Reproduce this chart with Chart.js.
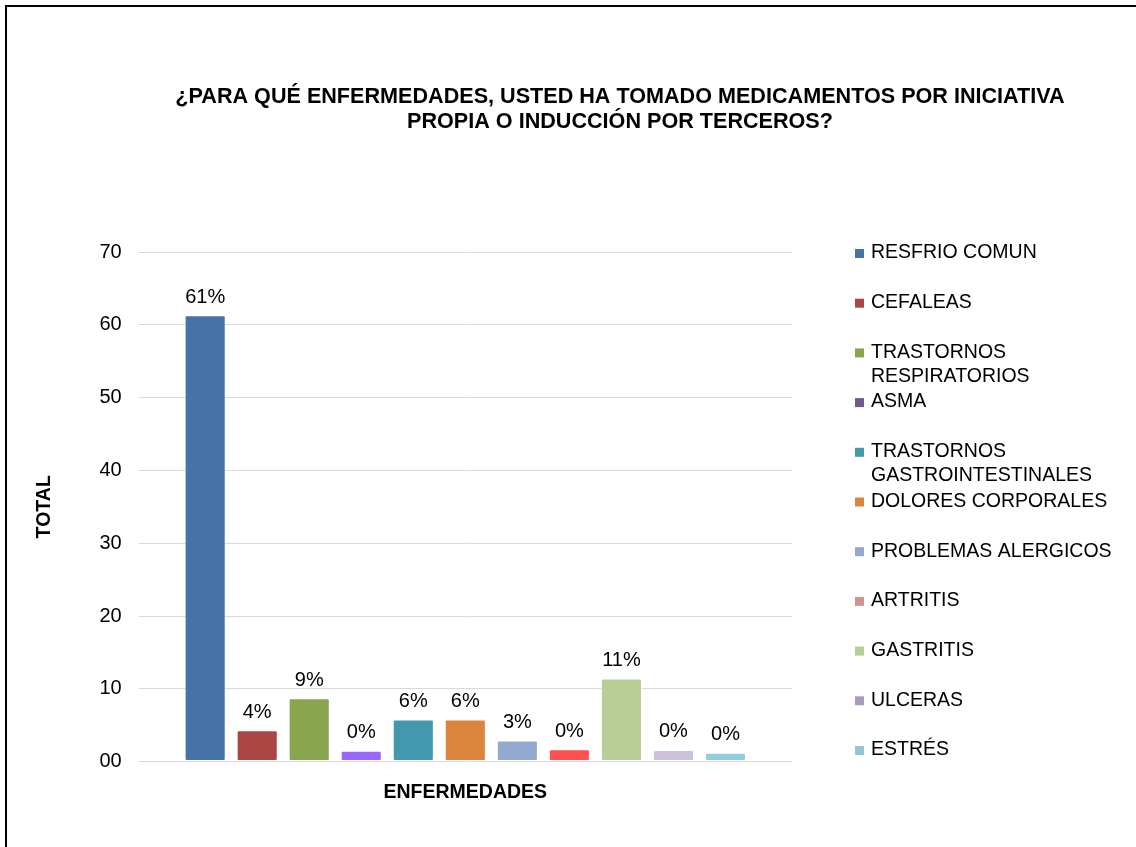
<!DOCTYPE html>
<html>
<head>
<meta charset="utf-8">
<script src="https://cdn.jsdelivr.net/npm/chart.js@4/dist/chart.umd.min.js"></script>
<style>
  body { margin: 0; background: #fff; overflow: hidden; }
  #wrap { position: relative; width: 1136px; height: 847px; }
  #frame { position: absolute; left: 5px; top: 5px; width: 1300px; height: 1000px; border: 2px solid #000; pointer-events: none; }
</style>
</head>
<body>
<div id="wrap">
  <canvas id="chart" width="1136" height="847"></canvas>
  <div id="frame"></div>
</div>
<script>
const categories = [''];
const diseases = [
  'RESFRIO COMUN', 'CEFALEAS', 'TRASTORNOS RESPIRATORIOS', 'ASMA',
  'TRASTORNOS GASTROINTESTINALES', 'DOLORES CORPORALES', 'PROBLEMAS ALERGICOS',
  'ARTRITIS', 'GASTRITIS', 'ULCERAS', 'ESTRÉS'
];
// legend text split the way the original wraps it
const legendLines = [
  ['RESFRIO COMUN'], ['CEFALEAS'], ['TRASTORNOS', 'RESPIRATORIOS'], ['ASMA'],
  ['TRASTORNOS', 'GASTROINTESTINALES'], ['DOLORES CORPORALES'], ['PROBLEMAS ALERGICOS'],
  ['ARTRITIS'], ['GASTRITIS'], ['ULCERAS'], ['ESTRÉS']
];
const totals = [61.3, 4.3, 8.7, 1.5, 5.8, 5.8, 2.9, 1.7, 11.4, 1.6, 1.2];
const pctLabels = ['61%', '4%', '9%', '0%', '6%', '6%', '3%', '0%', '11%', '0%', '0%'];
const barColors = ['#4572A7', '#AA4643', '#89A54E', '#9966FF', '#4198AF', '#DB843D',
  '#93A9CF', '#FF5050', '#B9CD96', '#CCC0DA', '#92CDDC'];
const legendColors = ['#4572A7', '#AA4643', '#89A54E', '#71588F', '#4198AF', '#DB843D',
  '#93A9CF', '#D19392', '#B9CD96', '#A99BBD', '#92C5D6'];
const yTicks = [0, 10, 20, 30, 40, 50, 60, 70];
const titleLines = ['¿PARA QUÉ ENFERMEDADES, USTED HA TOMADO MEDICAMENTOS POR INICIATIVA', 'PROPIA O INDUCCIÓN POR TERCEROS?'];

const FONT = "'Liberation Sans', Arial, sans-serif";

// title centred over the whole picture, not just the plot
const topTitle = {
  id: 'topTitle',
  afterDraw(chart) {
    const ctx = chart.ctx;
    ctx.save();
    ctx.font = 'bold 21.6px ' + FONT;
    ctx.fillStyle = '#000';
    ctx.textAlign = 'center';
    ctx.textBaseline = 'middle';
    titleLines.forEach((t, i) => ctx.fillText(t, 620, 97 + i * 25));
    ctx.restore();
  }
};

// percentage labels above each bar
const barLabels = {
  id: 'barLabels',
  afterDatasetsDraw(chart) {
    const ctx = chart.ctx;
    ctx.save();
    ctx.font = '20px ' + FONT;
    ctx.fillStyle = '#000';
    ctx.textAlign = 'center';
    ctx.textBaseline = 'bottom';
    chart.data.datasets.forEach((ds, i) => {
      const bar = chart.getDatasetMeta(i).data[0];
      ctx.fillText(pctLabels[i], bar.x, bar.y - 8);
    });
    ctx.restore();
  }
};

// legend on the right, one entry per disease, wrapped labels
const sideLegend = {
  id: 'sideLegend',
  afterDraw(chart) {
    const ctx = chart.ctx;
    const x0 = 855, y0 = 253, step = 49.7;
    ctx.save();
    ctx.font = '19.5px ' + FONT;
    ctx.textBaseline = 'middle';
    ctx.textAlign = 'left';
    legendLines.forEach((lines, i) => {
      const y = y0 + i * step;
      ctx.fillStyle = legendColors[i];
      ctx.fillRect(x0, y - 4, 9, 9);
      ctx.fillStyle = '#000';
      lines.forEach((t, j) => ctx.fillText(t, x0 + 16, y + j * 24));
    });
    ctx.restore();
  }
};

const chart = new Chart(document.getElementById('chart'), {
  type: 'bar',
  data: {
    labels: categories,
    datasets: diseases.map((name, i) => ({
      label: name,
      data: [totals[i]],
      backgroundColor: barColors[i],
      borderColor: 'rgba(255,255,255,0.6)',
      borderWidth: 1,
      borderRadius: 2,
      borderSkipped: false,
      categoryPercentage: 0.876,
      barPercentage: 0.79
    }))
  },
  options: {
    responsive: false,
    animation: false,
    layout: { padding: { left: 33, right: 344, top: 252, bottom: 43 } },
    plugins: {
      legend: { display: false },
      tooltip: { enabled: false },
      title: { display: false }
    },
    scales: {
      x: {
        grid: { display: false },
        border: { display: false },
        ticks: { display: false },
        title: {
          display: true,
          text: 'ENFERMEDADES',
          color: '#000',
          font: { family: FONT, size: 19.5, weight: 'bold' },
          padding: { top: 11, bottom: 0 }
        }
      },
      y: {
        min: 0,
        max: 70,
        afterBuildTicks(scale) { scale.ticks = yTicks.map(v => ({ value: v })); },
        grid: { color: '#D9D9D9', lineWidth: 1, drawTicks: false },
        border: { display: false },
        ticks: {
          color: '#000',
          font: { family: FONT, size: 20 },
          padding: 17,
          callback: v => v === 0 ? '00' : String(v)
        },
        title: {
          display: true,
          text: 'TOTAL',
          color: '#000',
          font: { family: FONT, size: 19.5, weight: 'bold' },
          padding: { top: 0, bottom: 26 }
        }
      }
    }
  },
  plugins: [topTitle, barLabels, sideLegend]
});
</script>
</body>
</html>
